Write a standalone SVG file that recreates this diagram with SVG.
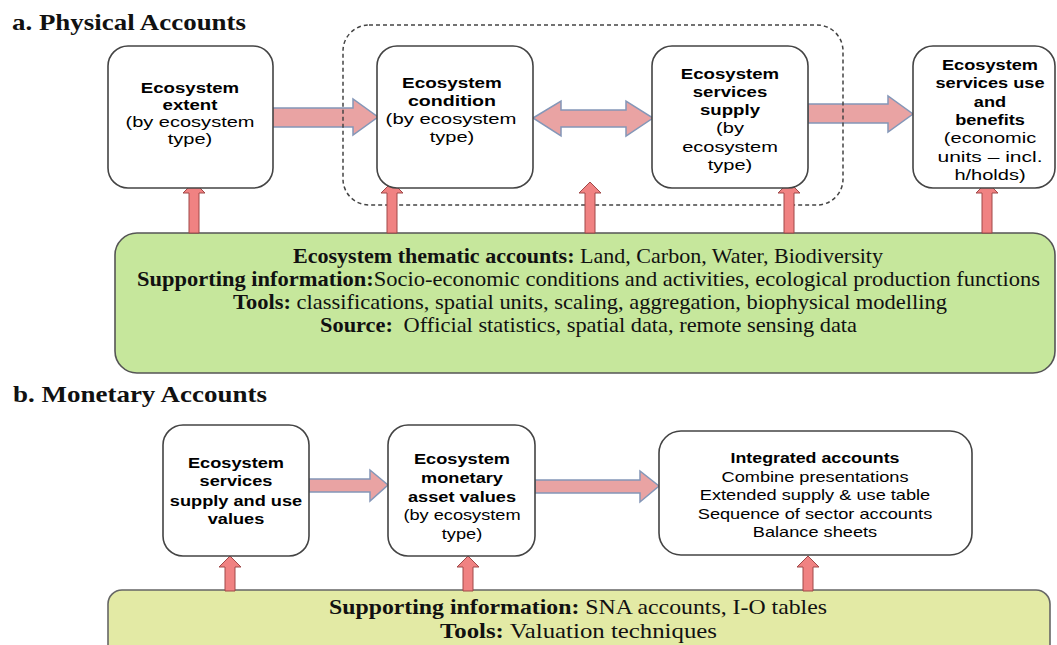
<svg xmlns="http://www.w3.org/2000/svg" width="1057" height="645" viewBox="0 0 1057 645">
<style>
.box{fill:#ffffff;stroke:#444;stroke-width:1.6}
.harrow{fill:#e9a3a3;stroke:#8497b8;stroke-width:1.5}
.varrow{fill:#f08282;stroke:#a04848;stroke-width:1}
.title{font-family:"Liberation Serif",serif;font-weight:bold;font-size:23px;fill:#111}
.ser{font-family:"Liberation Serif",serif;font-size:21px;fill:#111}
.ser2{font-family:"Liberation Serif",serif;font-size:21px;fill:#111}
.b{font-weight:bold}
.t{font-family:"Liberation Sans",Arial,sans-serif;font-size:14px;fill:#000;text-anchor:middle}
.tb{font-family:"Liberation Sans",Arial,sans-serif;font-size:14px;font-weight:bold;fill:#000;text-anchor:middle}
</style>
<rect width="1057" height="645" fill="#ffffff"/>
<text class="title" x="12" y="30" textLength="234" lengthAdjust="spacingAndGlyphs">a. Physical Accounts</text>
<text class="title" x="13" y="402" textLength="254" lengthAdjust="spacingAndGlyphs">b. Monetary Accounts</text>

<g id="thematic">
<rect x="115" y="233" width="940" height="140" rx="22" fill="#c6e79c" stroke="#555" stroke-width="1.6"/>
<text class="ser" x="293" y="263" textLength="590" lengthAdjust="spacingAndGlyphs"><tspan class="b">Ecosystem thematic accounts:</tspan> Land, Carbon, Water, Biodiversity</text>
<text class="ser" x="137" y="286" textLength="903" lengthAdjust="spacingAndGlyphs"><tspan class="b">Supporting information:</tspan>Socio-economic conditions and activities, ecological production functions</text>
<text class="ser" x="233" y="309" textLength="714" lengthAdjust="spacingAndGlyphs"><tspan class="b">Tools:</tspan> classifications, spatial units, scaling, aggregation, biophysical modelling</text>
<text class="ser" x="320" y="332" textLength="537" lengthAdjust="spacingAndGlyphs"><tspan class="b">Source:</tspan><tspan dx="10">Official statistics, spatial data, remote sensing data</tspan></text>
</g>

<g id="monetary-support">
<rect x="108" y="590" width="942" height="80" rx="14" fill="#e3eaa5" stroke="#666" stroke-width="1.6"/>
<text class="ser2" x="329" y="614" textLength="498" lengthAdjust="spacingAndGlyphs"><tspan class="b">Supporting information:</tspan> SNA accounts, I-O tables</text>
<text class="ser2" x="440" y="638" textLength="277" lengthAdjust="spacingAndGlyphs"><tspan class="b">Tools:</tspan> Valuation techniques</text>
</g>

<g id="connectors">
<polygon class="harrow" points="272,108 353,108 353,99 378,117 353,135 353,127 272,127"/>
<polygon class="harrow" points="533,118 561,101 561,110 626,110 626,101 653,118 626,136 626,127 561,127 561,136"/>
<polygon class="harrow" points="808,104 888,104 888,96 913,114 888,132 888,123 808,123"/>
<polygon class="harrow" points="309,479 370,479 370,470 388,485 370,501 370,492 309,492"/>
<polygon class="harrow" points="535,480 640,480 640,471 659,486 640,502 640,493 535,493"/>
</g>

<g id="ecosystem-group">
<rect x="343" y="25" width="500" height="180" rx="26" fill="none" stroke="#444" stroke-width="1.5" stroke-dasharray="4 3"/>
</g>

<g id="supply-arrows">
<polygon class="varrow" points="194,182 205,193 199,193 199,233 189,233 189,193 183,193"/>
<polygon class="varrow" points="392,182 403,193 397,193 397,233 387,233 387,193 381,193"/>
<polygon class="varrow" points="590,182 601,193 595,193 595,233 585,233 585,193 579,193"/>
<polygon class="varrow" points="789,182 800,193 794,193 794,233 784,233 784,193 778,193"/>
<polygon class="varrow" points="987,182 998,193 992,193 992,233 982,233 982,193 976,193"/>
<polygon class="varrow" points="230,556 241,567 235,567 235,591 225,591 225,567 219,567"/>
<polygon class="varrow" points="468,556 479,567 473,567 473,591 463,591 463,567 457,567"/>
<polygon class="varrow" points="808,556 819,567 813,567 813,591 803,591 803,567 797,567"/>
</g>

<g id="extent">
<rect class="box" x="108" y="46" width="165" height="142" rx="20"/>
<text class="tb" transform="translate(190,93) scale(1.33,1)">Ecosystem</text>
<text class="tb" transform="translate(190,110) scale(1.33,1)">extent</text>
<text class="t" transform="translate(190,127) scale(1.43,1)">(by ecosystem</text>
<text class="t" transform="translate(190,144) scale(1.43,1)">type)</text>
</g>

<g id="condition">
<rect class="box" x="377" y="46" width="156" height="142" rx="20"/>
<text class="tb" transform="translate(452,88) scale(1.35,1)">Ecosystem</text>
<text class="tb" transform="translate(452,106) scale(1.4,1)">condition</text>
<text class="t" transform="translate(451,124) scale(1.45,1)">(by ecosystem</text>
<text class="t" transform="translate(452,142) scale(1.43,1)">type)</text>
</g>

<g id="supply">
<rect class="box" x="652" y="46" width="156" height="142" rx="20"/>
<text class="tb" transform="translate(730,79) scale(1.33,1)">Ecosystem</text>
<text class="tb" transform="translate(730,97) scale(1.33,1)">services</text>
<text class="tb" transform="translate(730,115) scale(1.33,1)">supply</text>
<text class="t" transform="translate(730,133) scale(1.43,1)">(by</text>
<text class="t" transform="translate(730,152) scale(1.43,1)">ecosystem</text>
<text class="t" transform="translate(730,170) scale(1.43,1)">type)</text>
</g>

<g id="use-benefits">
<rect class="box" x="913" y="46" width="142" height="142" rx="20"/>
<text class="tb" transform="translate(990,70) scale(1.3,1)">Ecosystem</text>
<text class="tb" transform="translate(990,88) scale(1.3,1)">services use</text>
<text class="tb" transform="translate(990,107) scale(1.3,1)">and</text>
<text class="tb" transform="translate(990,125) scale(1.3,1)">benefits</text>
<text class="t" transform="translate(990,143) scale(1.43,1)">(economic</text>
<text class="t" transform="translate(990,162) scale(1.5,1)">units – incl.</text>
<text class="t" transform="translate(990,180) scale(1.43,1)">h/holds)</text>
</g>

<g id="supply-use-values">
<rect class="box" x="163" y="425" width="146" height="131" rx="20"/>
<text class="tb" transform="translate(236,468) scale(1.3,1)">Ecosystem</text>
<text class="tb" transform="translate(236,486) scale(1.3,1)">services</text>
<text class="tb" transform="translate(236,506) scale(1.3,1)">supply and use</text>
<text class="tb" transform="translate(236,524) scale(1.3,1)">values</text>
</g>

<g id="asset-values">
<rect class="box" x="388" y="425" width="147" height="131" rx="20"/>
<text class="tb" transform="translate(462,464) scale(1.3,1)">Ecosystem</text>
<text class="tb" transform="translate(462,483) scale(1.3,1)">monetary</text>
<text class="tb" transform="translate(462,502) scale(1.3,1)">asset values</text>
<text class="t" transform="translate(462,520) scale(1.3,1)">(by ecosystem</text>
<text class="t" transform="translate(462,539) scale(1.3,1)">type)</text>
</g>

<g id="integrated">
<rect class="box" x="659" y="431" width="313" height="124" rx="22"/>
<text class="tb" transform="translate(815,463) scale(1.27,1)">Integrated accounts</text>
<text class="t" transform="translate(815,482) scale(1.3,1)">Combine presentations</text>
<text class="t" transform="translate(815,500) scale(1.3,1)">Extended supply &amp; use table</text>
<text class="t" transform="translate(815,519) scale(1.3,1)">Sequence of sector accounts</text>
<text class="t" transform="translate(815,537) scale(1.3,1)">Balance sheets</text>
</g>
</svg>
